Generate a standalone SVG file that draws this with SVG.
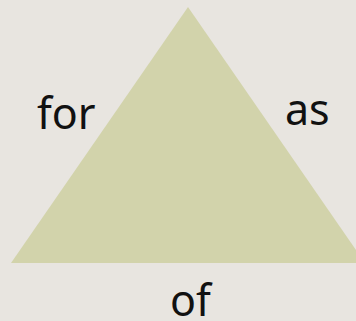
<svg xmlns="http://www.w3.org/2000/svg" width="356" height="321" viewBox="0 0 356 321">
<style>
.lbl{font-family:"Noto Sans",sans-serif;font-size:43px;fill:#111;}
</style>
<rect width="356" height="321" fill="#E8E5E0"/>
<g id="triangle">
<polygon points="188,7 11,263 365,263" fill="#D2D3AB"/>
</g>
<g id="labels">
<text class="lbl" x="37" y="129">for</text>
<text class="lbl" x="285" y="125">as</text>
<text class="lbl" x="170" y="316">of</text>
</g>
</svg>
